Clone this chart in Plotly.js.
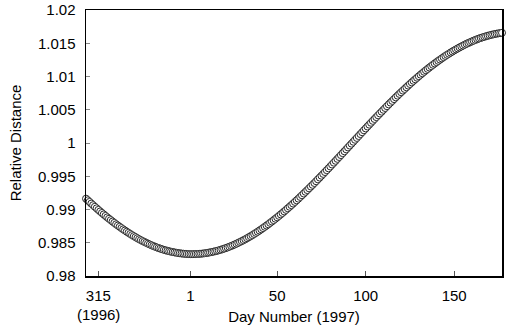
<!DOCTYPE html>
<html>
<head>
<meta charset="utf-8">
<script src="https://cdn.plot.ly/plotly-3.0.1.min.js"></script>
<style>
html,body{margin:0;padding:0;background:#fff;}
#chart{width:512px;height:332px;}
</style>
</head>
<body>
<div id="chart"></div>
<script>
// Day offset of the first point relative to 1 Jan 1997 (day 308 of 1996 -> -58)
const firstDay = -58;
// Relative Earth–Sun distance, one value per day (day 308 of 1996 through day 177 of 1997)
const distance = [
0.99163,0.99138,0.99114,0.99089,0.99065,0.99041,0.99018,0.98994,0.98971,0.98948,
0.98926,0.98904,0.98882,0.98861,0.98840,0.98819,0.98799,0.98778,0.98759,0.98740,
0.98721,0.98702,0.98684,0.98666,0.98649,0.98632,0.98615,0.98599,0.98584,0.98568,
0.98553,0.98539,0.98525,0.98512,0.98499,0.98486,0.98474,0.98462,0.98451,0.98440,
0.98430,0.98420,0.98411,0.98402,0.98394,0.98386,0.98379,0.98372,0.98366,0.98360,
0.98355,0.98350,0.98345,0.98342,0.98338,0.98335,0.98333,0.98331,0.98330,0.98329,
0.98329,0.98329,0.98330,0.98331,0.98333,0.98335,0.98338,0.98342,0.98345,0.98350,
0.98355,0.98360,0.98366,0.98372,0.98379,0.98386,0.98394,0.98402,0.98411,0.98420,
0.98430,0.98440,0.98451,0.98462,0.98474,0.98486,0.98499,0.98512,0.98525,0.98539,
0.98553,0.98568,0.98584,0.98599,0.98615,0.98632,0.98649,0.98666,0.98684,0.98702,
0.98721,0.98740,0.98759,0.98778,0.98799,0.98819,0.98840,0.98861,0.98882,0.98904,
0.98926,0.98948,0.98971,0.98994,0.99018,0.99041,0.99065,0.99089,0.99114,0.99138,
0.99163,0.99189,0.99214,0.99240,0.99266,0.99292,0.99318,0.99345,0.99371,0.99398,
0.99425,0.99453,0.99480,0.99508,0.99535,0.99563,0.99591,0.99619,0.99647,0.99676,
0.99704,0.99732,0.99761,0.99789,0.99818,0.99847,0.99875,0.99904,0.99933,0.99961,
0.99990,1.00019,1.00048,1.00076,1.00105,1.00134,1.00162,1.00191,1.00219,1.00248,
1.00276,1.00304,1.00333,1.00361,1.00389,1.00416,1.00444,1.00471,1.00499,1.00526,
1.00553,1.00580,1.00607,1.00633,1.00660,1.00686,1.00712,1.00738,1.00763,1.00788,
1.00813,1.00838,1.00863,1.00887,1.00911,1.00935,1.00958,1.00981,1.01004,1.01027,
1.01049,1.01071,1.01093,1.01114,1.01135,1.01156,1.01176,1.01196,1.01216,1.01235,
1.01254,1.01272,1.01291,1.01309,1.01326,1.01343,1.01360,1.01376,1.01392,1.01407,
1.01422,1.01437,1.01451,1.01465,1.01479,1.01492,1.01504,1.01516,1.01528,1.01539,
1.01550,1.01561,1.01571,1.01580,1.01589,1.01597,1.01605,1.01613,1.01620,1.01627,
1.01633,1.01639,1.01644,1.01649,1.01653,1.01657
];
const xTickVals = [-51, 1, 50, 100, 150];
const xTickText = ['315', '1', '50', '100', '150'];
const yTickVals = [0.98, 0.985, 0.99, 0.995, 1, 1.005, 1.01, 1.015, 1.02];
const yTickText = ['0.98', '0.985', '0.99', '0.995', '1', '1.005', '1.01', '1.015', '1.02'];
const xTitle = 'Day Number (1997)';
const yTitle = 'Relative Distance';
const yearNote = '(1996)';

const days = distance.map((_, i) => firstDay + i);

const font = {family: '"Liberation Sans", Arial, Helvetica, sans-serif', size: 15, color: '#000'};

Plotly.newPlot('chart', [{
  x: days,
  y: distance,
  type: 'scatter',
  mode: 'markers',
  cliponaxis: false,
  marker: {symbol: 'circle', size: 7, color: '#fff', line: {color: '#2a2a2a', width: 1}},
  hoverinfo: 'skip'
}], {
  width: 512, height: 332,
  margin: {l: 86, r: 10, t: 10, b: 56},
  paper_bgcolor: '#fff', plot_bgcolor: '#fff',
  font: font,
  showlegend: false,
  xaxis: {
    range: [days[0], days[days.length - 1]],
    tickvals: xTickVals, ticktext: xTickText,
    ticks: 'inside', ticklen: 5, tickcolor: '#555', tickwidth: 1,
    showline: true, linecolor: '#000', linewidth: 1.5, mirror: true,
    showgrid: false, zeroline: false,
    ticklabelstandoff: 5,
    tickfont: font,
    title: {text: xTitle, font: font, standoff: 9}
  },
  yaxis: {
    range: [0.98, 1.02],
    tickvals: yTickVals, ticktext: yTickText,
    ticks: 'inside', ticklen: 4, tickcolor: '#888', tickwidth: 1,
    showline: true, linecolor: '#000', linewidth: 1.5, mirror: true,
    showgrid: false, zeroline: false,
    ticklabelstandoff: 6,
    tickfont: font,
    title: {text: yTitle, font: font, standoff: 12}
  },
  annotations: [{
    text: yearNote, x: -51, xref: 'x', y: 0, yref: 'paper',
    yshift: -38, yanchor: 'middle', showarrow: false, font: font
  }]
}, {staticPlot: true, displayModeBar: false});
</script>
</body>
</html>
